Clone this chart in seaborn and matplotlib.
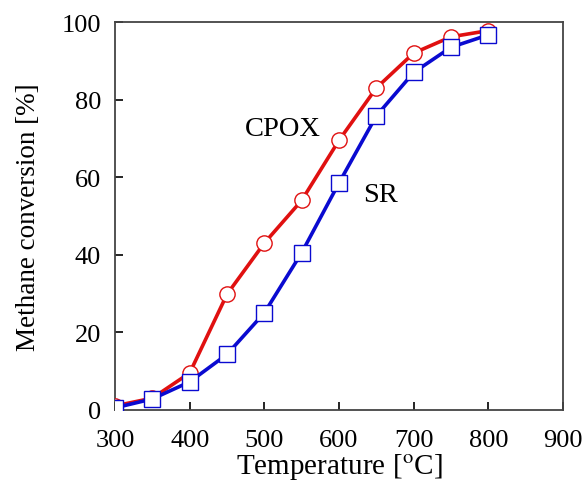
import pandas as pd
import seaborn as sns
import matplotlib.pyplot as plt

sns.set_style("ticks")
plt.rcParams["font.family"] = ["Liberation Serif", "DejaVu Serif"]
plt.rcParams["mathtext.fontset"] = "stix"
plt.rcParams["text.color"] = "black"
plt.rcParams["axes.labelcolor"] = "black"

temperature = [300, 350, 400, 450, 500, 550, 600, 650, 700, 750, 800]
cpox = [1.0, 3.0, 9.5, 29.8, 43.0, 54.0, 69.5, 83.0, 92.0, 96.2, 97.8]
sr = [0.5, 2.8, 7.2, 14.3, 25.0, 40.5, 58.5, 75.8, 87.0, 93.5, 96.7]

df = pd.DataFrame({"temperature": temperature, "CPOX": cpox, "SR": sr})

fig, ax = plt.subplots(figsize=(5.87, 4.81), dpi=100)

sns.lineplot(data=df, x="temperature", y="CPOX", ax=ax, color="#e01010",
             linewidth=2.6, marker="o", markersize=11, markerfacecolor="white",
             markeredgecolor="#e01010", markeredgewidth=1.0, zorder=3)
sns.lineplot(data=df, x="temperature", y="SR", ax=ax, color="#0a0ad0",
             linewidth=2.6, marker="s", markersize=12, markerfacecolor="white",
             markeredgecolor="#0a0ad0", markeredgewidth=1.0, zorder=4)

ax.text(525, 72.5, "CPOX", fontsize=20.5, ha="center", va="center")
ax.text(655, 55.5, "SR", fontsize=20.5, ha="center", va="center")

ax.set_xlim(300, 900)
ax.set_ylim(0, 100)
ax.set_xticks(range(300, 901, 100))
ax.set_yticks(range(0, 101, 20))
ax.tick_params(direction="in", length=6, width=1.2, labelsize=19, colors="black")
ax.tick_params(axis="x", pad=14)
ax.tick_params(axis="y", pad=10)
for s in ax.spines.values():
    s.set_color("#444444")
    s.set_linewidth(1.3)

ax.set_xlabel("Temperature [$^{\\rm o}$C]", fontsize=21, labelpad=0)
ax.set_ylabel("Methane conversion [%]", fontsize=19.5, labelpad=15)

fig.subplots_adjust(left=0.196, right=0.959, top=0.952, bottom=0.146)
fig.savefig("out.png", dpi=100)
